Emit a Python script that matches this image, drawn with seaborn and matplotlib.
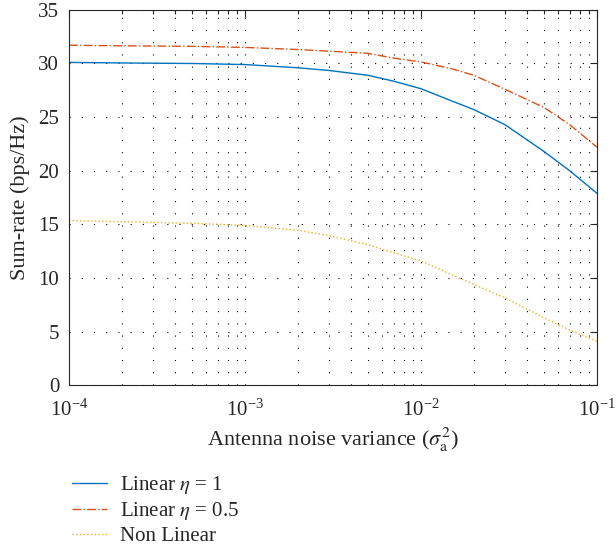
import matplotlib
matplotlib.use('Agg')
import matplotlib.pyplot as plt
import seaborn as sns
import pandas as pd
import numpy as np
from matplotlib.ticker import LogLocator, MultipleLocator, NullFormatter

# noise variance values (x) and sum-rate curves
noise_var = [1e-4, 2e-4, 5e-4, 1e-3, 2e-3, 3e-3, 5e-3, 7e-3, 1e-2,
             1.5e-2, 2e-2, 3e-2, 5e-2, 7e-2, 1e-1]
linear_eta1 = [30.1, 30.05, 30.0, 29.9, 29.6, 29.35, 28.9, 28.35, 27.65,
               26.5, 25.7, 24.3, 21.8, 20.0, 17.9]
linear_eta05 = [31.7, 31.65, 31.6, 31.5, 31.3, 31.15, 30.95, 30.5, 30.15,
                29.5, 28.9, 27.6, 25.9, 24.3, 22.2]
non_linear = [15.35, 15.25, 15.1, 14.9, 14.45, 13.95, 13.1, 12.35, 11.6,
              10.3, 9.4, 8.15, 6.3, 5.15, 4.1]

labels = [r"Linear $\eta$ = 1", r"Linear $\eta$ = 0.5", "Non Linear"]
colors = ["#0072BD", "#D95319", "#EDB120"]
styles = ["-", "-.", ":"]

sns.set_style("white")
plt.rcParams['font.family'] = ['Liberation Serif', 'DejaVu Serif']
plt.rcParams['mathtext.fontset'] = 'stix'

fig = plt.figure(figsize=(6.16, 5.48), dpi=100)
ax = fig.add_axes([0.112, 0.297, 0.857, 0.685])

for vals, lab, c, ls in zip([linear_eta1, linear_eta05, non_linear], labels, colors, styles):
    df = pd.DataFrame({"x": noise_var, "y": vals})
    sns.lineplot(data=df, x="x", y="y", ax=ax, color=c, linestyle=ls,
                 linewidth=1.0, label=lab)

ax.set_xscale("log")
ax.set_xlim(1e-4, 1e-1)
ax.set_ylim(0, 35)
ax.yaxis.set_major_locator(MultipleLocator(5))
ax.xaxis.set_major_locator(LogLocator(base=10, numticks=10))
ax.xaxis.set_minor_locator(LogLocator(base=10, subs=np.arange(2, 10), numticks=20))
ax.xaxis.set_minor_formatter(NullFormatter())

grid_ls = (0, (1, 10))
ax.grid(True, which="major", linestyle=grid_ls, color="black", linewidth=0.8)
ax.grid(True, which="minor", axis="x", linestyle=grid_ls, color="black", linewidth=0.8)
ax.tick_params(which="both", direction="in", top=True, right=True, labelsize=15,
               color="#262626", width=0.8)
ax.tick_params(axis="y", pad=7)
ax.tick_params(axis="x", pad=10)
ax.tick_params(which="major", length=5)
ax.tick_params(which="minor", length=3)
for s in ax.spines.values():
    s.set_color("#262626")
    s.set_linewidth(0.8)

ax.set_xlabel(r"Antenna noise variance ($\sigma_{\mathrm{a}}^{2}$)", fontsize=16, labelpad=4)
ax.set_ylabel("Sum-rate (bps/Hz)", fontsize=16, labelpad=6)

ax.legend(loc="upper left", bbox_to_anchor=(-0.01, -0.215), frameon=False,
          fontsize=15, handlelength=1.7, handletextpad=0.6, labelspacing=0.2,
          borderaxespad=0)

fig.savefig("out.png", dpi=100)
plt.close(fig)
